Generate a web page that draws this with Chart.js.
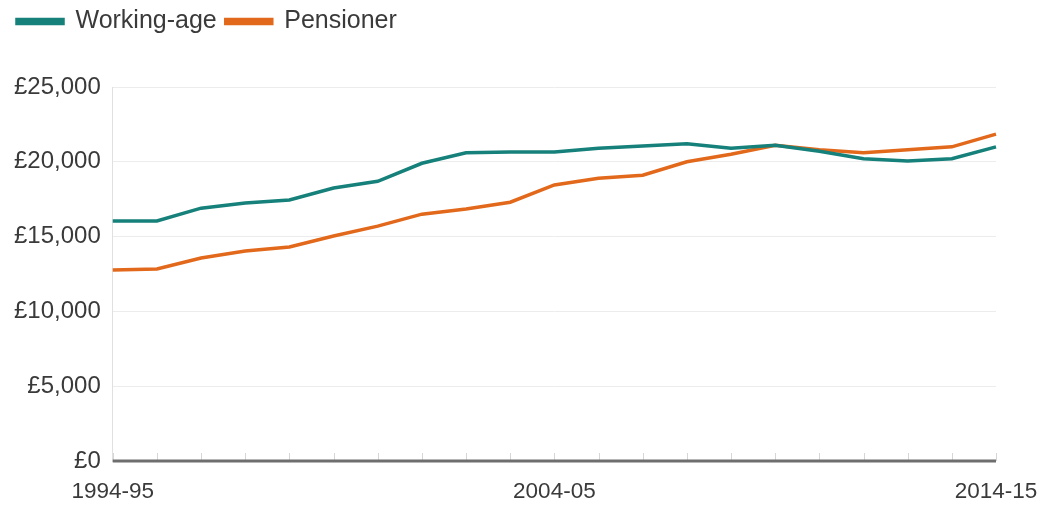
<!DOCTYPE html>
<html>
<head>
<meta charset="utf-8">
<script src="https://cdn.jsdelivr.net/npm/chart.js@4"></script>
<style>
  html, body { margin: 0; padding: 0; background: #fff; }
  #wrap { width: 1038px; height: 506px; }
</style>
</head>
<body>
<div id="wrap"><canvas id="grafico"></canvas></div>
<script>
// median income by household type, 1994-95 to 2014-15
const anos = ['1994-95', '1995-96', '1996-97', '1997-98', '1998-99', '1999-00', '2000-01',
  '2001-02', '2002-03', '2003-04', '2004-05', '2005-06', '2006-07', '2007-08', '2008-09',
  '2009-10', '2010-11', '2011-12', '2012-13', '2013-14', '2014-15'];
const idadeAtiva = [16050, 16050, 16900, 17250, 17450, 18250, 18700, 19900, 20600, 20650,
  20650, 20900, 21050, 21200, 20900, 21100, 20700, 20200, 20050, 20200, 21000];
const pensionistas = [12770, 12830, 13570, 14040, 14300, 15040, 15700, 16500, 16850, 17300,
  18450, 18900, 19100, 20000, 20500, 21100, 20800, 20600, 20800, 21000, 21850];
const rotulosX = ['1994-95', '2004-05', '2014-15'];

const fonte = "'Liberation Sans', Arial, sans-serif";
const cinzaTexto = '#3a3a3a';

// short tick marks sitting above the x axis line, plus the axis line itself
const marcasAcima = {
  id: 'marcasAcima',
  afterDatasetsDraw(chart) {
    const x = chart.scales.x;
    const y = chart.scales.y;
    const base = y.getPixelForValue(0);
    const c = chart.ctx;
    c.save();
    c.strokeStyle = '#d6d6d6';
    c.lineWidth = 1;
    x.ticks.forEach((t, i) => {
      const px = Math.round(x.getPixelForTick(i)) + 0.5;
      c.beginPath();
      c.moveTo(px, base - 8);
      c.lineTo(px, base);
      c.stroke();
    });
    c.strokeStyle = '#6e6e6e';
    c.lineWidth = 3;
    c.beginPath();
    c.moveTo(x.left, base);
    c.lineTo(x.right, base);
    c.stroke();
    c.restore();
  }
};

// leave room between the legend and the plot
const alturaLegenda = {
  id: 'alturaLegenda',
  beforeInit(chart) {
    const fitOriginal = chart.legend.fit;
    chart.legend.fit = function () {
      fitOriginal.call(this);
      this.height = 87;
    };
  }
};

new Chart(document.getElementById('grafico'), {
  type: 'line',
  data: {
    labels: anos,
    datasets: [{
      label: 'Working-age',
      data: idadeAtiva,
      borderColor: '#16807a',
      backgroundColor: '#16807a',
      borderWidth: 3.5,
      pointRadius: 0,
      tension: 0
    }, {
      label: 'Pensioner',
      data: pensionistas,
      borderColor: '#e2691c',
      backgroundColor: '#e2691c',
      borderWidth: 3.5,
      pointRadius: 0,
      tension: 0
    }]
  },
  options: {
    responsive: true,
    maintainAspectRatio: false,
    animation: false,
    layout: { padding: { left: 8, right: 0, top: 0, bottom: 0 } },
    plugins: {
      tooltip: { enabled: false },
      legend: {
        position: 'top',
        align: 'start',
        labels: {
          boxWidth: 46,
          boxHeight: 4,
          padding: 9,
          color: cinzaTexto,
          font: { family: fonte, size: 25 }
        }
      }
    },
    scales: {
      x: {
        grid: { display: false, drawTicks: false },
        border: { display: false },
        afterFit(scale) {
          scale.paddingRight = 42;
          scale.height = 45;
        },
        ticks: {
          autoSkip: false,
          maxRotation: 0,
          padding: 17,
          color: cinzaTexto,
          font: { family: fonte, size: 22.5 },
          callback: (v, i) => rotulosX.includes(anos[i]) ? anos[i] : ''
        }
      },
      y: {
        min: 0,
        max: 25000,
        grid: { color: '#ececec', lineWidth: 1, drawTicks: false },
        border: { display: true, color: '#e0e0e0', width: 1 },
        afterFit(scale) {
          scale.width -= 6;
        },
        ticks: {
          stepSize: 5000,
          padding: 12,
          color: cinzaTexto,
          font: { family: fonte, size: 24 },
          callback: v => '£' + v.toLocaleString('en-GB')
        }
      }
    }
  },
  plugins: [marcasAcima, alturaLegenda]
});
</script>
</body>
</html>
